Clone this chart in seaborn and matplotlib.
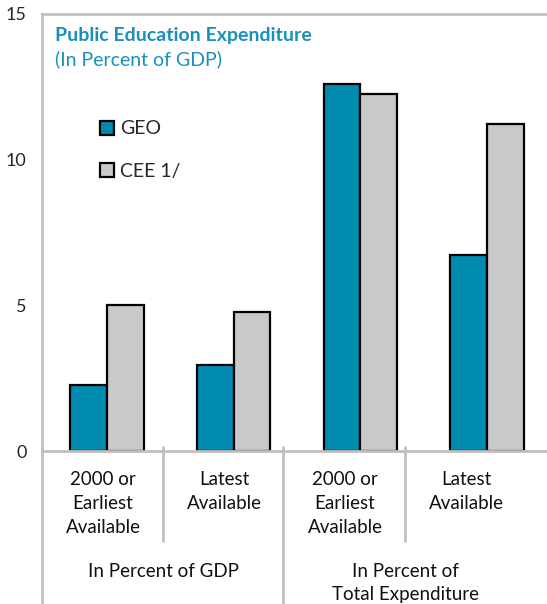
import matplotlib
matplotlib.use("Agg")
import matplotlib.pyplot as plt
import seaborn as sns
import pandas as pd
from matplotlib.lines import Line2D
from matplotlib.patches import Patch

categories = ["2000 or\nEarliest\nAvailable", "Latest\nAvailable",
              "2000 or \nEarliest\nAvailable", "Latest \nAvailable"]
geo = [2.27, 2.95, 12.6, 6.73]
cee = [5.01, 4.77, 12.25, 11.22]
series = ["GEO", "CEE 1/"]
groups = ["In Percent of GDP", "In Percent of\nTotal Expenditure"]
yticks = [0, 5, 10, 15]

df = pd.DataFrame({
    "cat": categories * 2,
    "val": geo + cee,
    "series": [series[0]] * 4 + [series[1]] * 4,
})

sns.set_style("white")
plt.rcParams["font.family"] = ["Lato", "DejaVu Sans"]

W, H = 547, 604
fig = plt.figure(figsize=(W / 100, H / 100), dpi=100)
ax_l, ax_r, ax_t, ax_b = 42, 547, 14, 451
ax = fig.add_axes([ax_l / W, 1 - ax_b / H, (ax_r - ax_l) / W, (ax_b - ax_t) / H])

teal = "#008bb0"
gray = "#c9c9c9"
sns.barplot(data=df, x="cat", y="val", hue="series", order=categories,
            palette=[teal, gray], width=0.58, edgecolor="black",
            linewidth=1.6, ax=ax, legend=False, saturation=1)

grp_w = 126.7
x_left = -(107 - ax_l) / grp_w
ax.set_xlim(x_left, x_left + (ax_r - ax_l) / grp_w)
ax.set_ylim(0, 15)
ax.set_yticks(yticks)
ax.set_yticklabels([str(t) for t in yticks], fontsize=13)
ax.tick_params(axis="y", length=0, pad=11)
ax.set_xticks([])
ax.set_xlabel("")
ax.set_ylabel("")

spine_c = "#c0c0c0"
for s in ["left", "top", "bottom"]:
    ax.spines[s].set_color(spine_c)
    ax.spines[s].set_linewidth(2)
ax.spines["right"].set_visible(False)

def fx(px):
    return px / W
def fy(py):
    return 1 - py / H

for x0, y1 in [(42, 604), (163, 541), (283, 604), (405, 541)]:
    fig.add_artist(Line2D([fx(x0), fx(x0)], [fy(447), fy(y1)],
                          color=spine_c, lw=2))

centers = [103, 224, 345, 466]
for c, lab in zip(centers, ["2000 or\nEarliest\nAvailable", "Latest\nAvailable",
                            "2000 or\nEarliest\nAvailable", "Latest\nAvailable"]):
    fig.text(fx(c), fy(471), lab, ha="center", va="top", fontsize=13.5,
             linespacing=1.5, color="#111111")
for c, lab in zip([163, 405], groups):
    fig.text(fx(c), fy(563), lab, ha="center", va="top", fontsize=13.5,
             linespacing=1.45, color="#111111")

title_c = "#1a8fbf"
fig.text(fx(55), fy(35), "Public Education Expenditure",
         fontsize=14, fontweight="bold", color=title_c, va="center")
fig.text(fx(55), fy(59), "(In Percent of GDP)",
         fontsize=14, color=title_c, va="center")

handles = [Patch(facecolor=teal, edgecolor="black", linewidth=1.6),
           Patch(facecolor=gray, edgecolor="black", linewidth=1.6)]
ax.legend(handles, series, loc="upper left",
          bbox_to_anchor=(fx(82), fy(103)), bbox_transform=fig.transFigure,
          frameon=False, fontsize=14, handlelength=0.75, handleheight=0.75,
          handletextpad=0.3, labelspacing=1.3)

fig.savefig("out.png", dpi=100)
